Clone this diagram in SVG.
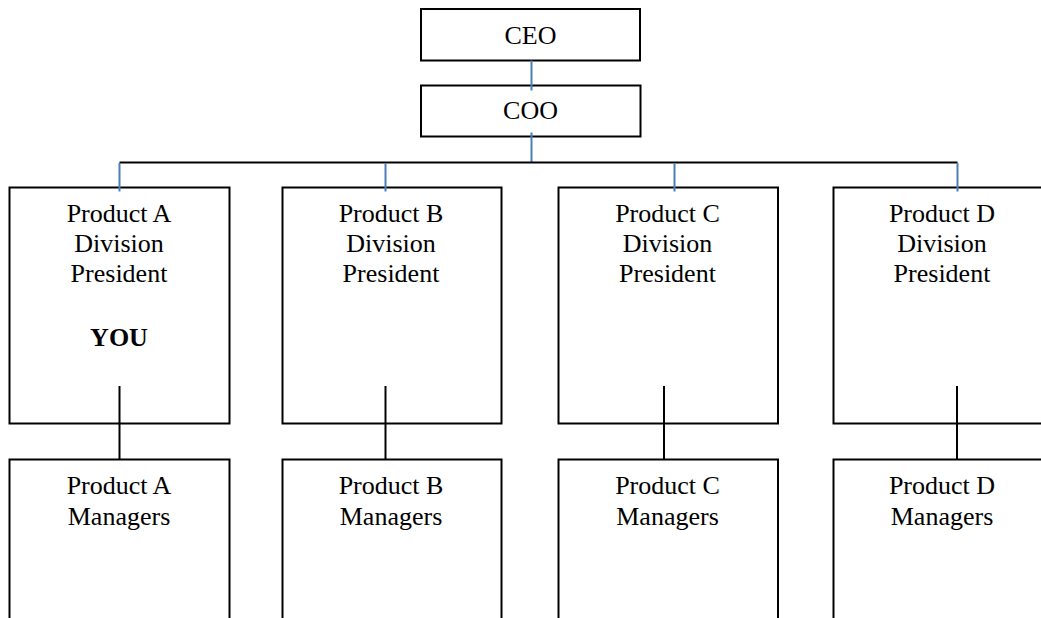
<svg xmlns="http://www.w3.org/2000/svg" width="1041" height="618" viewBox="0 0 1041 618">
  <style>
    .box { fill: #ffffff; stroke: #000000; stroke-width: 2; }
    .lbl { font-family: "Liberation Serif", "Times New Roman", serif; font-size: 26px; fill: #000000; text-anchor: middle; }
    .bold { font-weight: bold; }
    .blue { stroke: #4a7ebb; stroke-width: 2; fill: none; }
    .black { stroke: #000000; stroke-width: 2; fill: none; }
  </style>
  <rect width="1041" height="618" fill="#ffffff"/>

  <!-- executive boxes -->
  <g id="ceo">
    <rect class="box" x="421" y="9" width="219" height="51.5"/>
    <text class="lbl" x="530.5" y="43.5">CEO</text>
  </g>
  <g id="coo">
    <rect class="box" x="421" y="85.5" width="219.5" height="51"/>
    <text class="lbl" x="530.5" y="118.5">COO</text>
  </g>

  <!-- division presidents -->
  <g id="pres-a">
    <rect class="box" x="9.5" y="187.5" width="220" height="236"/>
    <text class="lbl" x="119" y="221.5">Product A</text>
    <text class="lbl" x="119" y="251.5">Division</text>
    <text class="lbl" x="119" y="281.5">President</text>
    <text class="lbl bold" x="119" y="346">YOU</text>
  </g>
  <g id="pres-b">
    <rect class="box" x="282.5" y="187.5" width="219" height="236"/>
    <text class="lbl" x="391" y="221.5">Product B</text>
    <text class="lbl" x="391" y="251.5">Division</text>
    <text class="lbl" x="391" y="281.5">President</text>
  </g>
  <g id="pres-c">
    <rect class="box" x="558.5" y="187.5" width="219.5" height="236"/>
    <text class="lbl" x="667.5" y="221.5">Product C</text>
    <text class="lbl" x="667.5" y="251.5">Division</text>
    <text class="lbl" x="667.5" y="281.5">President</text>
  </g>
  <g id="pres-d">
    <rect class="box" x="833.5" y="187.5" width="220" height="236"/>
    <text class="lbl" x="942" y="221.5">Product D</text>
    <text class="lbl" x="942" y="251.5">Division</text>
    <text class="lbl" x="942" y="281.5">President</text>
  </g>

  <!-- product managers -->
  <g id="mgr-a">
    <rect class="box" x="9.5" y="459.5" width="220" height="200"/>
    <text class="lbl" x="119" y="493.5">Product A</text>
    <text class="lbl" x="119" y="524.5">Managers</text>
  </g>
  <g id="mgr-b">
    <rect class="box" x="282.5" y="459.5" width="219" height="200"/>
    <text class="lbl" x="391" y="493.5">Product B</text>
    <text class="lbl" x="391" y="524.5">Managers</text>
  </g>
  <g id="mgr-c">
    <rect class="box" x="558.5" y="459.5" width="219.5" height="200"/>
    <text class="lbl" x="667.5" y="493.5">Product C</text>
    <text class="lbl" x="667.5" y="524.5">Managers</text>
  </g>
  <g id="mgr-d">
    <rect class="box" x="833.5" y="459.5" width="220" height="200"/>
    <text class="lbl" x="942" y="493.5">Product D</text>
    <text class="lbl" x="942" y="524.5">Managers</text>
  </g>

  <!-- connectors -->
  <g id="connectors">
    <line class="blue" x1="531.5" y1="60.5" x2="531.5" y2="90.5"/>
    <line class="blue" x1="531.5" y1="132.5" x2="531.5" y2="162.5"/>
    <line class="black" x1="119.5" y1="162.5" x2="957.5" y2="162.5"/>
    <line class="blue" x1="119.5" y1="163" x2="119.5" y2="191.5"/>
    <line class="blue" x1="385.5" y1="163" x2="385.5" y2="191.5"/>
    <line class="blue" x1="674.5" y1="163" x2="674.5" y2="191.5"/>
    <line class="blue" x1="957.5" y1="163" x2="957.5" y2="191.5"/>
    <line class="black" x1="119.5" y1="386" x2="119.5" y2="459.5"/>
    <line class="black" x1="385.5" y1="386" x2="385.5" y2="459.5"/>
    <line class="black" x1="664" y1="386" x2="664" y2="459.5"/>
    <line class="black" x1="957" y1="386" x2="957" y2="459.5"/>
  </g>
</svg>
